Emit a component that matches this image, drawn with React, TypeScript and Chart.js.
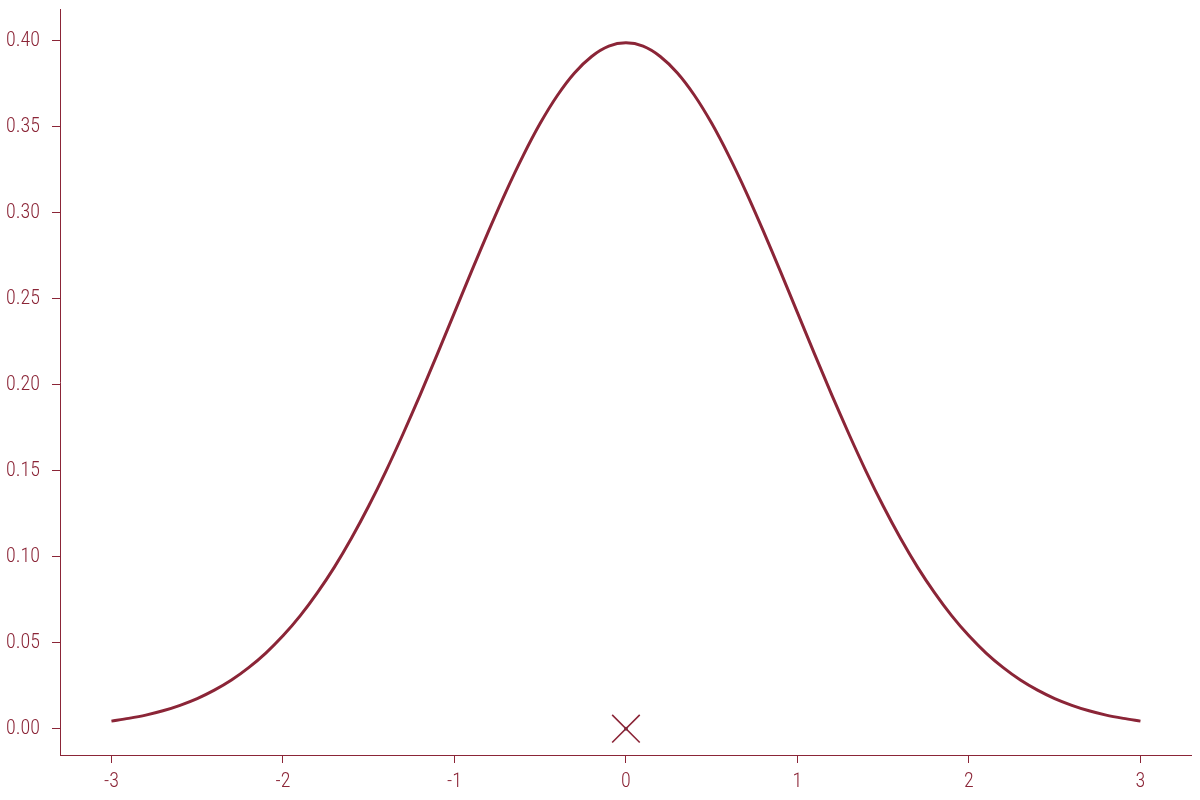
import Chart from "chart.js/auto";
import { useEffect, useRef } from "react";

// curve, x step 0.1
const xValues = [
  -3.0, -2.9, -2.8, -2.7, -2.6, -2.5, -2.4, -2.3, -2.2, -2.1, -2.0, -1.9, -1.8, -1.7, -1.6,
  -1.5, -1.4, -1.3, -1.2, -1.1, -1.0, -0.9, -0.8, -0.7, -0.6, -0.5, -0.4, -0.3, -0.2, -0.1,
  0.0, 0.1, 0.2, 0.3, 0.4, 0.5, 0.6, 0.7, 0.8, 0.9, 1.0, 1.1, 1.2, 1.3, 1.4, 1.5, 1.6, 1.7,
  1.8, 1.9, 2.0, 2.1, 2.2, 2.3, 2.4, 2.5, 2.6, 2.7, 2.8, 2.9, 3.0,
];
const densityValues = [
  0.0044, 0.006, 0.0079, 0.0104, 0.0136, 0.0175, 0.0224, 0.0283, 0.0355, 0.044, 0.054,
  0.0656, 0.079, 0.094, 0.1109, 0.1295, 0.1497, 0.1714, 0.1942, 0.2179, 0.242, 0.2661,
  0.2897, 0.3123, 0.3332, 0.3521, 0.3683, 0.3814, 0.391, 0.397, 0.3989, 0.397, 0.391,
  0.3814, 0.3683, 0.3521, 0.3332, 0.3123, 0.2897, 0.2661, 0.242, 0.2179, 0.1942, 0.1714,
  0.1497, 0.1295, 0.1109, 0.094, 0.079, 0.0656, 0.054, 0.044, 0.0355, 0.0283, 0.0224,
  0.0175, 0.0136, 0.0104, 0.0079, 0.006, 0.0044,
];
const markerX = [0];
const markerY = [0];
const xTicks = [-3, -2, -1, 0, 1, 2, 3];
const yTicks = [0, 0.05, 0.1, 0.15, 0.2, 0.25, 0.3, 0.35, 0.4];

const RED = "#8b2537";
const FONT = { family: "'Roboto Condensed', 'DejaVu Sans Condensed', sans-serif", size: 20, weight: 300 };

export default function App() {
  const canvasRef = useRef<HTMLCanvasElement | null>(null);

  useEffect(() => {
    if (!canvasRef.current) return;

    const chart = new Chart(canvasRef.current, {
      type: "line",
      data: {
        datasets: [
          {
            data: xValues.map((x, i) => ({ x, y: densityValues[i] })),
            borderColor: RED,
            borderWidth: 3,
            pointRadius: 0,
            tension: 0.3,
            fill: false,
          },
          {
            data: markerX.map((x, i) => ({ x, y: markerY[i] })),
            showLine: false,
            pointStyle: "crossRot",
            pointRadius: 19.5,
            borderColor: RED,
            borderWidth: 1.6,
          },
          {
            data: markerX.map((x, i) => ({ x, y: markerY[i] })),
            showLine: false,
            pointStyle: "rect",
            pointRadius: 2.5,
            backgroundColor: "#3b3f4f",
            borderWidth: 0,
          },
        ],
      },
      options: {
        animation: false,
        responsive: true,
        maintainAspectRatio: false,
        layout: { padding: { top: 8, right: 8, left: 0, bottom: 0 } },
        plugins: { legend: { display: false }, tooltip: { enabled: false } },
        scales: {
          x: {
            type: "linear",
            min: -3.3,
            max: 3.3,
            afterBuildTicks: (s) => {
              s.ticks = xTicks.map((v) => ({ value: v }));
            },
            afterFit: (s) => {
              s.height = 45;
            },
            grid: { drawOnChartArea: false, drawTicks: true, tickLength: 8, color: RED },
            border: { color: RED, width: 1 },
            ticks: { color: RED, font: FONT, padding: 7, callback: (v) => String(v) },
          },
          y: {
            type: "linear",
            min: -0.0153,
            max: 0.4186,
            afterBuildTicks: (s) => {
              s.ticks = yTicks.map((v) => ({ value: v }));
            },
            afterFit: (s) => {
              s.width = 60;
            },
            grid: { drawOnChartArea: false, drawTicks: true, tickLength: 8, color: RED },
            border: { color: RED, width: 1 },
            ticks: {
              color: RED,
              font: FONT,
              padding: 12,
              callback: (v) => Number(v).toFixed(2),
            },
          },
        },
      },
    });

    return () => chart.destroy();
  }, []);

  // the scales reserve room for edge labels; shift the canvas so the plot area lands where the reference has it
  return (
    <div style={{ position: "fixed", left: 0, top: -15, width: 1213, height: 815, background: "#fff" }}>
      <canvas ref={canvasRef} />
    </div>
  );
}
